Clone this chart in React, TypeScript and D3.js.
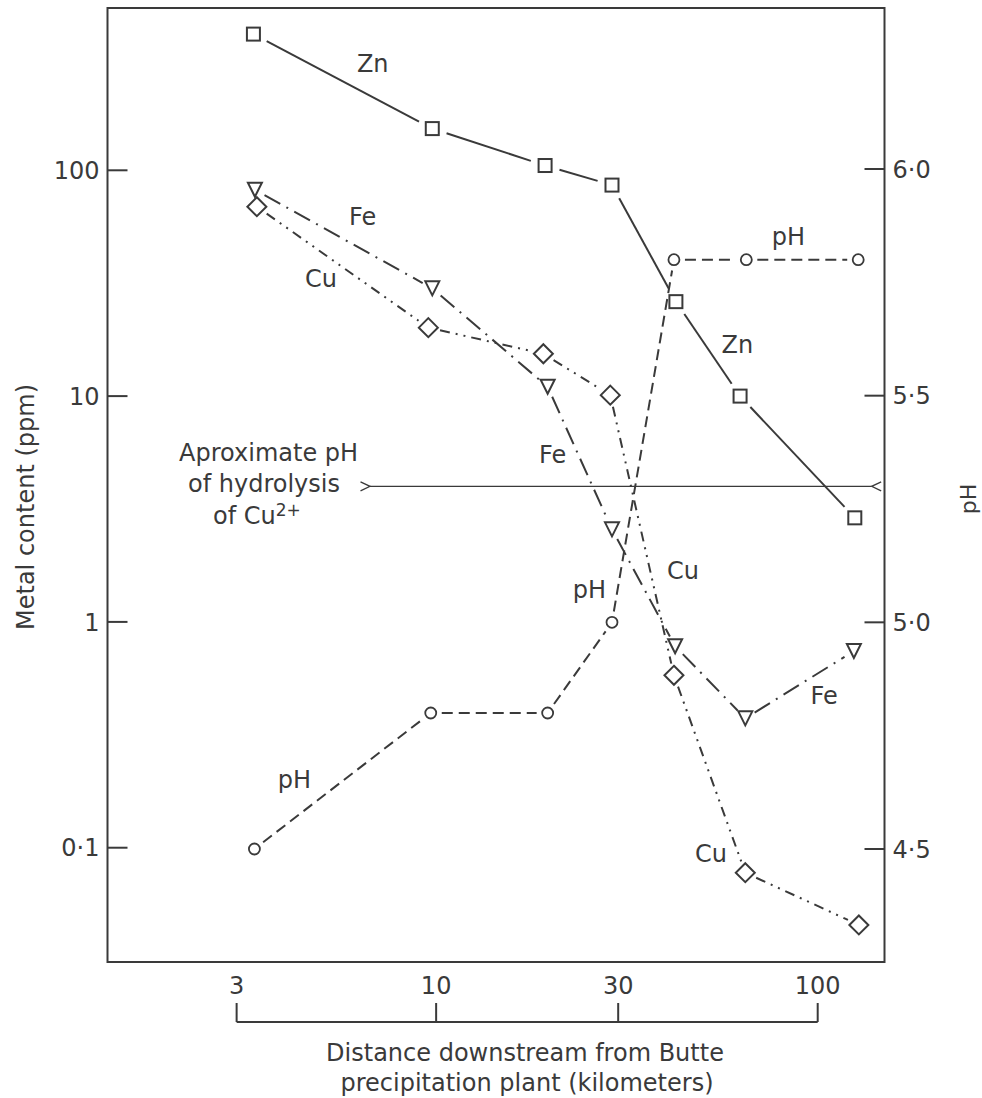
import React from 'react';
import * as d3 from 'd3';

const W = 982;
const H = 1098;

// ---- data ----
const znDistance = [3.32, 9.77, 19.3, 28.9, 42.5, 62.6, 125.1];
const znPpm = [401, 153, 105, 86, 26.2, 10.0, 2.89];
const feDistance = [3.35, 9.77, 19.6, 28.9, 42.3, 64.6, 124.4];
const fePpm = [82, 30, 11.0, 2.57, 0.78, 0.374, 0.743];
const cuDistance = [3.39, 9.54, 19.1, 28.6, 42.0, 64.6, 128.2];
const cuPpm = [69, 20.1, 15.4, 10.1, 0.58, 0.0775, 0.0455];
const phDistance = [3.34, 9.68, 19.6, 28.9, 42.0, 65.0, 127.7];
const phValue = [4.5, 4.8, 4.8, 5.0, 5.8, 5.8, 5.8];

const xTicks = [3, 10, 30, 100];
const xTickLabels = ['3', '10', '30', '100'];
const ppmTicks = [100, 10, 1, 0.1];
const ppmTickLabels = ['100', '10', '1', '0·1'];
const phTicks = [6.0, 5.5, 5.0, 4.5];
const phTickLabels = ['6·0', '5·5', '5·0', '4·5'];

const hydrolysisPh = 5.3;
const hydrolysisFrom = 6.71;
const hydrolysisTo = 138.5;

const seriesLabels = [
  { text: 'Zn', distance: 6.2, ppm: 273 },
  { text: 'Fe', distance: 5.91, ppm: 57.3 },
  { text: 'Cu', distance: 4.53, ppm: 30.3 },
  { text: 'pH', distance: 75.8, ppm: 46.7 },
  { text: 'Zn', distance: 55.96, ppm: 15.5 },
  { text: 'Fe', distance: 18.6, ppm: 5.04 },
  { text: 'Cu', distance: 40.3, ppm: 1.544 },
  { text: 'pH', distance: 22.8, ppm: 1.272 },
  { text: 'pH', distance: 3.845, ppm: 0.1832 },
  { text: 'Fe', distance: 95.7, ppm: 0.433 },
  { text: 'Cu', distance: 47.7, ppm: 0.0867 },
];

const noteLines = [
  { text: 'Aproximate pH', distance: 2.12, ppm: 5.18 },
  { text: 'of hydrolysis', distance: 2.237, ppm: 3.77 },
];
const noteLastLine = { text: 'of Cu', sup: '2+', distance: 2.602, ppm: 2.705 };

const xTitle = ['Distance downstream from Butte', 'precipitation plant (kilometers)'];
const yTitle = 'Metal content (ppm)';
const y2Title = 'pH';

// ---- layout ----
const INK = '#3a3a3a';
const FONT = 'DejaVu Sans, sans-serif';
const left = 107.5, right = 884.5, top = 8, bottom = 962;

const x = d3.scaleLog().domain([1.3763, 149.65]).range([left, right]);
const y = d3.scaleLog().domain([0.03118, 523.3]).range([bottom, top]);
const yPh = d3.scaleLinear().domain([4.2507, 6.3552]).range([bottom, top]);

type Pt = [number, number];

function segments(pts: Pt[], gap: number) {
  const out: { x1: number; y1: number; x2: number; y2: number }[] = [];
  for (let i = 0; i < pts.length - 1; i++) {
    const [ax, ay] = pts[i];
    const [bx, by] = pts[i + 1];
    const L = Math.hypot(bx - ax, by - ay);
    if (L <= 2 * gap) continue;
    const ux = (bx - ax) / L, uy = (by - ay) / L;
    out.push({ x1: ax + ux * gap, y1: ay + uy * gap, x2: bx - ux * gap, y2: by - uy * gap });
  }
  return out;
}

function Series({ pts, gap, dash, marker }: { pts: Pt[]; gap: number; dash?: string; marker: (p: Pt, i: number) => React.ReactNode }) {
  return (
    <g>
      {segments(pts, gap).map((s, i) => (
        <line key={i} {...s} stroke={INK} strokeWidth={2} strokeDasharray={dash} fill="none" />
      ))}
      {pts.map((p, i) => marker(p, i))}
    </g>
  );
}

const square = (p: Pt, i: number) => (
  <rect key={i} x={p[0] - 6.5} y={p[1] - 6.5} width={13} height={13} fill="white" stroke={INK} strokeWidth={2} />
);
const triangle = (p: Pt, i: number) => (
  <path key={i} d={`M${p[0] - 7},${p[1] - 7} L${p[0] + 7},${p[1] - 7} L${p[0]},${p[1] + 7} Z`} fill="white" stroke={INK} strokeWidth={2} strokeLinejoin="miter" />
);
const diamond = (p: Pt, i: number) => (
  <path key={i} d={`M${p[0]},${p[1] - 9.5} L${p[0] + 9.5},${p[1]} L${p[0]},${p[1] + 9.5} L${p[0] - 9.5},${p[1]} Z`} fill="white" stroke={INK} strokeWidth={2} />
);
const circle = (p: Pt, i: number) => (
  <circle key={i} cx={p[0]} cy={p[1]} r={5.5} fill="white" stroke={INK} strokeWidth={1.8} />
);

export default function App() {
  const zn: Pt[] = znDistance.map((d, i) => [x(d), y(znPpm[i])]);
  const fe: Pt[] = feDistance.map((d, i) => [x(d), y(fePpm[i])]);
  const cu: Pt[] = cuDistance.map((d, i) => [x(d), y(cuPpm[i])]);
  const ph: Pt[] = phDistance.map((d, i) => [x(d), yPh(phValue[i])]);

  const hy = yPh(hydrolysisPh);
  const hx1 = x(hydrolysisFrom);
  const hx2 = x(hydrolysisTo);
  const bracketY = 1022;

  return (
    <svg width={W} height={H} style={{ position: 'absolute', left: 0, top: 0, background: 'white' }} fontFamily={FONT}>
      <rect x={0} y={0} width={W} height={H} fill="white" />
      {/* frame */}
      <rect x={left} y={top} width={right - left} height={bottom - top} fill="none" stroke={INK} strokeWidth={2} />

      {/* left ticks */}
      {ppmTicks.map((t, i) => (
        <g key={'l' + i}>
          <line x1={left} x2={left + 20} y1={y(t)} y2={y(t)} stroke={INK} strokeWidth={2} />
          <text x={left - 8} y={y(t)} dy="0.36em" textAnchor="end" fontSize={24} fill={INK}>{ppmTickLabels[i]}</text>
        </g>
      ))}
      {/* right ticks */}
      {phTicks.map((t, i) => (
        <g key={'r' + i}>
          <line x1={right - 20} x2={right} y1={yPh(t)} y2={yPh(t)} stroke={INK} strokeWidth={2} />
          <text x={right + 8} y={yPh(t)} dy="0.36em" textAnchor="start" fontSize={24} fill={INK}>{phTickLabels[i]}</text>
        </g>
      ))}
      {/* x tick labels and bracket */}
      {xTicks.map((t, i) => (
        <g key={'x' + i}>
          <text x={x(t)} y={994} textAnchor="middle" fontSize={24} fill={INK}>{xTickLabels[i]}</text>
          <line x1={x(t)} x2={x(t)} y1={bracketY} y2={1003} stroke={INK} strokeWidth={2} />
        </g>
      ))}
      <line x1={x(xTicks[0])} x2={x(xTicks[xTicks.length - 1])} y1={bracketY} y2={bracketY} stroke={INK} strokeWidth={2} />

      {/* axis titles */}
      <text x={525} y={1061} textAnchor="middle" fontSize={24} fill={INK}>{xTitle[0]}</text>
      <text x={527} y={1091} textAnchor="middle" fontSize={24} fill={INK}>{xTitle[1]}</text>
      <text transform={`translate(34,${(top + bottom) / 2 + 22}) rotate(-90)`} textAnchor="middle" fontSize={24} fill={INK}>{yTitle}</text>
      <text transform={`translate(976,499) rotate(-90)`} textAnchor="middle" fontSize={22} fill={INK}>{y2Title}</text>

      {/* hydrolysis line */}
      <line x1={hx1} x2={hx2} y1={hy} y2={hy} stroke={INK} strokeWidth={1.3} />
      <path d={`M${hx1 - 9.5},${hy - 4.5} L${hx1},${hy} L${hx1 - 9.5},${hy + 4.5}`} fill="none" stroke={INK} strokeWidth={1.3} />
      <path d={`M${hx2 + 9.5},${hy - 4.5} L${hx2},${hy} L${hx2 + 9.5},${hy + 4.5}`} fill="none" stroke={INK} strokeWidth={1.3} />
      {noteLines.map((n, i) => (
        <text key={'n' + i} x={x(n.distance)} y={y(n.ppm)} fontSize={24} fill={INK}>{n.text}</text>
      ))}
      <text x={x(noteLastLine.distance)} y={y(noteLastLine.ppm)} fontSize={24} fill={INK}>
        {noteLastLine.text}
        <tspan fontSize={17} dy={-8}>{noteLastLine.sup}</tspan>
      </text>

      {/* series */}
      <Series pts={zn} gap={15} marker={square} />
      <Series pts={fe} gap={11} dash="18 7 2 7" marker={triangle} />
      <Series pts={cu} gap={12} dash="10 6 2 6 2 6" marker={diamond} />
      <Series pts={ph} gap={11} dash="11 6" marker={circle} />

      {/* series labels */}
      {seriesLabels.map((l, i) => (
        <text key={'s' + i} x={x(l.distance)} y={y(l.ppm)} fontSize={24} fill={INK}>{l.text}</text>
      ))}
    </svg>
  );
}
